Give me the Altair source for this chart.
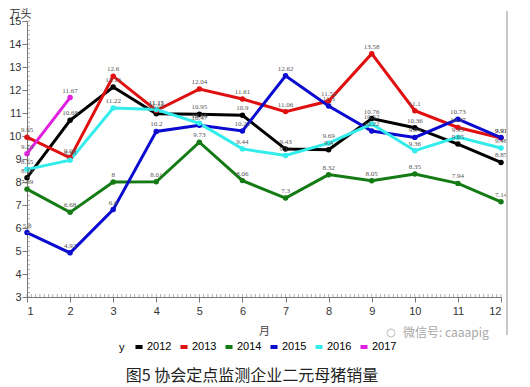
import altair as alt
import pandas as pd

months = list(range(1, 13))
years = ["2012", "2013", "2014", "2015", "2016", "2017"]
v2012 = [8.19, 10.68, 12.13, 10.97, 10.95, 10.9, 9.43, 9.4, 10.76, 10.36, 9.65, 8.85]
v2013 = [9.95, 9.05, 12.6, 11.11, 12.04, 11.61, 11.06, 11.52, 13.58, 11.1, 10.37, 9.91]
v2014 = [7.69, 6.68, 8, 8.01, 9.73, 8.06, 7.3, 8.32, 8.05, 8.35, 7.94, 7.14]
v2015 = [5.8, 4.92, 6.8, 10.2, 10.47, 10.22, 12.62, 11.3, 10.22, 9.94, 10.73, 9.93]
v2016 = [8.55, 8.95, 11.22, 11.15, 10.55, 9.44, 9.15, 9.69, 10.52, 9.36, 9.95, 9.48]
v2017 = [9.23, 11.67]
colors = ["#000000", "#e01010", "#147a14", "#0a0ad0", "#33ecec", "#e020e0"]
minor_x = [round(1 + i * 0.1, 1) for i in range(111)]
minor_y = [round(3 + i * 0.2, 1) for i in range(61)]

series = [v2012, v2013, v2014, v2015, v2016, v2017]
rows = []
for yr, vals in zip(years, series):
    for m, v in zip(months, vals):
        rows.append({"month": m, "value": v, "y": yr})
df = pd.DataFrame(rows)

W, H = 474, 276

xscale = alt.Scale(domain=[1, 12], nice=False, zero=False)
yscale = alt.Scale(domain=[3, 15], nice=False, zero=False)
cscale = alt.Scale(domain=years, range=colors)

xaxis = alt.Axis(title="月", values=months, format="d", grid=False,
                 tickSize=5, labelPadding=3, titlePadding=9, labelOverlap=False,
                 titleFontWeight="normal", titleFontSize=11, titleColor="#444")
yaxis = alt.Axis(title="万头", values=list(range(3, 16)), grid=False,
                 tickSize=5, labelPadding=1, titleAngle=0, labelOverlap=False,
                 titleAlign="left", titleBaseline="bottom",
                 titleX=-18, titleY=-2, titleFontWeight="normal",
                 titleFontSize=11, titleColor="#333")
X = alt.X("month:Q", scale=xscale, axis=xaxis)
Y = alt.Y("value:Q", scale=yscale, axis=yaxis)

base = alt.Chart(df).encode(
    x=X, y=Y,
    color=alt.Color("y:N", scale=cscale,
                    legend=alt.Legend(orient="none", legendX=92, legendY=320,
                                      direction="horizontal", titleOrient="left",
                                      symbolType="stroke", symbolStrokeWidth=4,
                                      symbolSize=50, labelFontSize=11,
                                      titleFontSize=11, titleFontWeight="normal",
                                      titlePadding=8,
                                      columnPadding=0, labelOffset=2)),
)

lines = base.mark_line(strokeWidth=3)
pts = base.mark_circle(size=30, opacity=1)
labels = base.mark_text(dy=-7, fontSize=7, font="Liberation Serif", color="#555").encode(
    text=alt.Text("value:Q"), color=alt.value("#555"))

mx = alt.Chart(pd.DataFrame({"month": minor_x})).mark_tick(
    orient="vertical", size=3, thickness=0.8, color="#777").encode(
    x=X, y=alt.value(H - 1.5))
my = alt.Chart(pd.DataFrame({"value": minor_y})).mark_tick(
    orient="horizontal", size=3, thickness=0.8, color="#777").encode(
    y=Y, x=alt.value(1.5))

wm = alt.Chart(pd.DataFrame({"t": ["微信号: caaapig"]})).mark_text(
    fontSize=12, color="#a8a8a8", font="Noto Sans CJK SC", align="left").encode(
    text="t:N", x=alt.value(W - 98), y=alt.value(H + 36))
icon = alt.Chart(pd.DataFrame({"t": ["icon"]})).mark_point(
    shape="circle", size=60, color="#b5b5b5", strokeWidth=1.2).encode(
    x=alt.value(W - 110), y=alt.value(H + 36))
frame = alt.Chart(pd.DataFrame({"a": [0]})).mark_rule(color="#c8c8c8", strokeWidth=2).encode(
    x=alt.value(W + 6), y=alt.value(-10), y2=alt.value(H + 38))

chart = alt.layer(lines, pts, labels, mx, my, wm, icon, frame).properties(
    width=W, height=H,
    padding={"left": 0, "top": 0, "right": 10, "bottom": 2},
    title=alt.TitleParams("图5 协会定点监测企业二元母猪销量", orient="bottom",
                          fontSize=16, fontWeight="normal", font="Noto Sans CJK SC",
                          color="#222", offset=13, anchor="middle", dx=-12),
).configure_view(stroke=None).configure_axis(
    domainColor="#777", tickColor="#777", labelColor="#333",
    labelFont="Liberation Sans", titleFont="Noto Sans CJK SC", labelFontSize=11,
).configure_legend(labelFont="Liberation Sans", titleFont="Liberation Sans")

chart.save("out.html", embed_options={"renderer": "svg", "actions": False})
